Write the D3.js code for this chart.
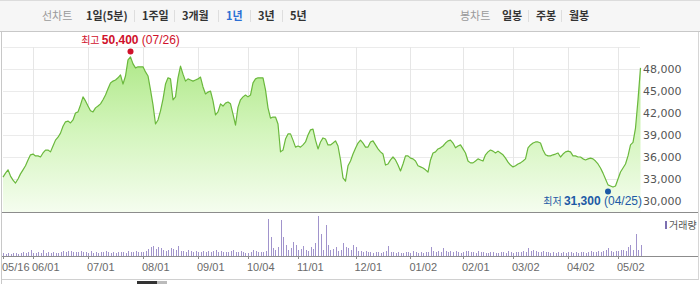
<!DOCTYPE html>
<html><head><meta charset="utf-8">
<script src="https://cdn.jsdelivr.net/npm/d3@7"></script>
<style>body{margin:0;background:#fff}svg{display:block}</style>
</head><body>
<script>
// ---------- DATA ----------
const prices = [
33250,33800,34250,33400,32850,32450,33000,33700,34250,34800,
35600,36300,36400,36150,36150,36000,36550,36950,36950,36700,
37500,38300,38700,39250,40200,40800,40900,40650,41050,42000,
42150,43100,44200,43650,42950,42300,42150,42700,42950,43250,
43800,44450,45300,46100,46350,46500,46800,47200,45950,47050,
49250,49650,48700,48150,48300,48300,48300,47600,47050,45150,
43100,40500,41050,42300,43900,45950,46800,46650,43800,44200,
46800,48400,47300,46350,46650,46500,46350,46500,46650,46900,
45550,44600,44850,45000,43650,41750,42150,43250,42950,43350,
43500,43250,41850,40350,42800,43800,44200,44450,44200,44450,
46100,46650,46800,46800,46800,45150,42700,41300,41450,41450,
40500,36700,36950,38450,39150,39150,38300,37350,37500,37350,
37650,38050,39000,39700,39800,38300,37100,38050,38600,38450,
37650,37650,37900,38200,37500,35600,33150,32700,34800,35450,
36400,37200,37900,38300,37900,37350,37350,38050,38200,37650,
37100,36700,36400,34900,35050,35600,36000,35600,34900,34100,
35050,36150,36150,35850,35750,35450,34800,34650,34500,34250,
33950,35600,36550,36700,37100,37250,37500,37900,38200,38300,
37900,37250,37500,37650,37100,36550,35450,35200,35200,35450,
35750,35600,35450,36300,36700,36950,36800,36550,36800,36550,
36300,35850,35300,34900,34650,34800,35050,35200,35450,35750,
37250,37650,37900,38050,38050,37900,36950,36300,36150,36150,
36300,36400,36550,36000,36400,36700,36800,36700,36150,36150,
36000,36000,35750,35600,35750,35850,35750,35450,35050,34500,
33800,33000,32200,32050,31900,32050,33000,33950,34500,35050,
36150,37650,38000,39950,43800,48150];

const volumes = [
90,60,90,60,90,90,60,90,120,90,
120,180,90,90,120,90,180,90,120,90,
120,90,90,120,150,120,150,150,120,120,
120,150,120,120,90,150,90,120,90,120,
120,150,120,90,120,90,120,120,120,90,
150,120,120,150,120,120,120,150,210,270,
300,210,270,240,180,150,180,240,210,180,
300,150,150,120,180,150,120,150,120,120,
150,120,150,120,150,180,120,150,120,120,
120,150,180,120,120,150,120,90,90,120,
180,150,120,120,120,150,1110,570,240,180,
270,1080,570,330,180,240,420,330,180,210,
300,180,150,270,210,390,1200,660,180,930,
330,180,210,270,150,180,390,270,240,180,
330,270,150,150,120,150,120,120,90,120,
120,90,120,150,300,120,120,90,120,90,
90,120,120,90,150,120,90,120,90,120,
120,270,150,120,150,120,240,150,120,150,
120,150,120,90,120,150,150,120,120,90,
150,120,120,90,90,120,120,90,90,120,
120,90,150,120,90,120,120,120,150,120,
240,150,180,150,120,120,150,120,120,90,
120,90,120,90,120,90,120,120,90,120,
90,120,120,90,120,150,120,120,150,120,
150,180,240,150,120,150,150,180,180,150,
270,330,180,660,180,330];

const tickLabels = ["05/16","06/01","07/01","08/01","09/01","10/04","11/01","12/01","01/02","02/01","03/02","04/02","05/02"];
const tickIdx    = [0,12,34,56,78,98,118,141,163,184,204,226,246];
const yTickValues = [30000,33000,36000,39000,42000,45000,48000];
const gridValues  = [30000,33000,36000,39000,42000,45000,48000,51000];
const highPoint = {label:"최고", value:50400, date:"07/26", idx:51};
const lowPoint  = {label:"최저", value:31300, date:"04/25", idx:242};
const navLeft  = ["선차트","1일(5분)","1주일","3개월","1년","3년","5년"];
const navRight = ["봉차트","일봉","주봉","월봉"];
const legendLabel = "거래량";

// ---------- LAYOUT ----------
const W = 700, H = 284;
const navLeftX  = [42,86,142,182,226,258,290];
const navRightX = [460,502,536,569];
const plotLeft = 3, plotRight = 640.5, priceBottom = 212, volBottom = 256, volTop = 215;

const svg = d3.select("body").append("svg").attr("width", W).attr("height", H);
svg.append("rect").attr("width", W).attr("height", H).attr("fill", "#fff");

// top bar
svg.append("rect").attr("x",0).attr("y",0).attr("width",W).attr("height",31).attr("fill","#f6f6f6");
svg.append("line").attr("x1",0).attr("x2",W).attr("y1",0.5).attr("y2",0.5).attr("stroke","#dcdcdc");
svg.append("line").attr("x1",0).attr("x2",W).attr("y1",31.5).attr("y2",31.5).attr("stroke","#c8c8c8");

function nav(items, xs, activeIdx) {
  items.forEach((t, i) => {
    svg.append("text").attr("x", xs[i]).attr("y", 20)
      .attr("font-family","'Noto Sans CJK KR',sans-serif").attr("font-size","11px")
      .attr("font-weight", i === 0 ? "normal" : "bold")
      .attr("fill", i === 0 ? "#9a9a9a" : (i === activeIdx ? "#2c6fd4" : "#333"))
      .text(t);
    if (i >= 2) {
      const sx = Math.round(xs[i] - (xs[i] - xs[i-1]) * 0) - 7.5;
      svg.append("line").attr("x1",sx).attr("x2",sx).attr("y1",10).attr("y2",22).attr("stroke","#dedede");
    }
  });
}
nav(navLeft, navLeftX, 4);
nav(navRight, navRightX, -1);

// scales
const x = d3.scaleLinear().domain([0, prices.length - 1]).range([plotLeft, plotRight]);
const y = d3.scaleLinear().domain([30000, 48000]).range([201, 69]);
const vy = d3.scaleLinear().domain([0, 1230]).range([volBottom, volTop]);

// grid
const gTop = y(d3.max(gridValues));
svg.append("g").selectAll("line").data(gridValues).join("line")
  .attr("x1", plotLeft).attr("x2", 640).attr("y1", d => Math.round(y(d)) + 0.5).attr("y2", d => Math.round(y(d)) + 0.5)
  .attr("stroke", "#ebebeb");
svg.append("g").selectAll("line").data(tickIdx.slice(1)).join("line")
  .attr("x1", d => Math.round(x(d)) + 0.5).attr("x2", d => Math.round(x(d)) + 0.5)
  .attr("y1", gTop).attr("y2", priceBottom).attr("stroke", "#e6e6e6");

// area + line
const defs = svg.append("defs");
const grad = defs.append("linearGradient").attr("id","fillG").attr("gradientUnits","userSpaceOnUse")
  .attr("x1",0).attr("y1",50).attr("x2",0).attr("y2",priceBottom);
grad.append("stop").attr("offset",0).attr("stop-color","#ace784");
grad.append("stop").attr("offset",0.5).attr("stop-color","#d3f5bc");
grad.append("stop").attr("offset",1).attr("stop-color","#f5fdef");

svg.append("path").datum(prices)
  .attr("d", d3.area().x((d,i) => x(i)).y0(priceBottom).y1(d => y(d)))
  .attr("fill","url(#fillG)");
svg.append("path").datum(prices)
  .attr("d", d3.line().x((d,i) => x(i)).y(d => y(d)))
  .attr("fill","none").attr("stroke","#6ab83c").attr("stroke-width",1.2).attr("stroke-linejoin","round");

// frame lines
svg.append("line").attr("x1",1.5).attr("x2",1.5).attr("y1",32).attr("y2",H).attr("stroke","#c8c8c8");
svg.append("line").attr("x1",698.5).attr("x2",698.5).attr("y1",32).attr("y2",280).attr("stroke","#d6d6d6");
svg.append("line").attr("x1",2).attr("x2",698).attr("y1",priceBottom + 0.5).attr("y2",priceBottom + 0.5).attr("stroke","#8c8c8c");

// y labels
svg.append("g").selectAll("text").data(yTickValues).join("text")
  .attr("x", 643).attr("y", d => y(d)).attr("dy","0.36em")
  .attr("font-family","'DejaVu Sans',sans-serif").attr("font-size","11px").attr("fill","#555")
  .text(d => d3.format(",")(d));

// high / low annotations
function annot(p, color, ty, maxRight) {
  svg.append("circle").attr("cx", x(p.idx)).attr("cy", y(p.value)).attr("r", 3).attr("fill", color);
  const t = svg.append("text").attr("y", ty).attr("fill", color)
    .attr("font-family","'Liberation Sans',sans-serif").attr("font-size","12px");
  t.append("tspan").attr("font-family","'Noto Sans CJK KR',sans-serif").attr("font-size","10px").text(p.label + " ");
  t.append("tspan").attr("font-weight","bold").text(d3.format(",")(p.value));
  t.append("tspan").text(" (" + p.date + ")");
  const w = t.node().getComputedTextLength();
  let tx = x(p.idx) - w / 2;
  if (tx + w > maxRight) tx = maxRight - w;
  t.attr("x", tx);
}
annot(highPoint, "#d0112b", 44, 640);
annot(lowPoint, "#1d5aa5", 205, 642);

// volume bars
svg.append("g").selectAll("rect").data(volumes).join("rect")
  .attr("x", (d,i) => Math.round(x(i))).attr("width", 1)
  .attr("y", d => vy(d)).attr("height", d => volBottom - vy(d))
  .attr("fill", "#a194cc");

// x axis
svg.append("line").attr("x1",2).attr("x2",698).attr("y1",volBottom + 0.5).attr("y2",volBottom + 0.5).attr("stroke","#8c8c8c");
svg.append("g").selectAll("line").data(tickIdx).join("line")
  .attr("x1", d => Math.round(x(d)) + 0.5).attr("x2", d => Math.round(x(d)) + 0.5)
  .attr("y1", volBottom).attr("y2", volBottom + 3).attr("stroke","#8c8c8c");
svg.append("g").selectAll("text").data(tickIdx).join("text")
  .attr("x", d => x(d) - 1).attr("y", 271)
  .attr("font-family","'Liberation Sans',sans-serif").attr("font-size","11px").attr("fill","#6a6a6a")
  .text((d,i) => tickLabels[i]);

// legend
svg.append("rect").attr("x",665).attr("y",221).attr("width",2).attr("height",8).attr("fill","#7d6fb0");
svg.append("text").attr("x",669).attr("y",229)
  .attr("font-family","'Noto Sans CJK KR',sans-serif").attr("font-size","10px").attr("fill","#555")
  .text(legendLabel);

// bottom border + scroller
svg.append("line").attr("x1",2).attr("x2",698).attr("y1",279.5).attr("y2",279.5).attr("stroke","#d0d0d0");
svg.append("rect").attr("x",137).attr("y",281).attr("width",20).attr("height",3).attr("fill","#333");
svg.append("rect").attr("x",157).attr("y",281).attr("width",10).attr("height",3).attr("fill","#bbb");
</script>
</body></html>
